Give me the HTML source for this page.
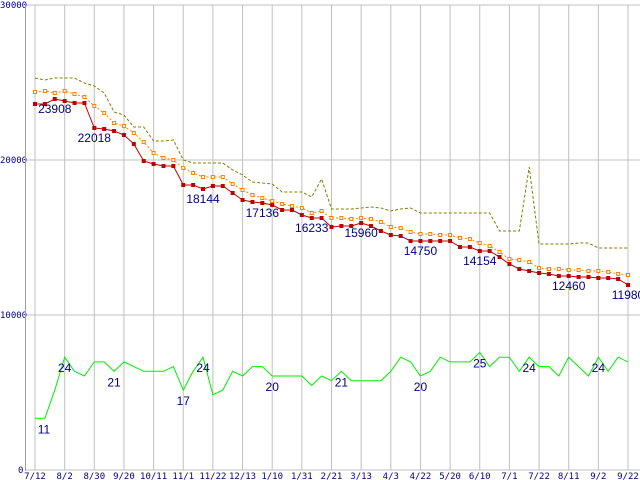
<!DOCTYPE html>
<html><head><meta charset="utf-8"><style>
html,body{margin:0;padding:0;background:#fff;}
svg{display:block;}
.tk{font-family:"DejaVu Sans Mono","Liberation Mono",monospace;font-size:9px;fill:#000080;}
.lb{font-family:"Liberation Sans",sans-serif;font-size:12px;fill:#000080;}
</style></head><body>
<svg id="chart" width="640" height="480" viewBox="0 0 640 480" xmlns="http://www.w3.org/2000/svg"></svg>
<script>
const xLabels=["7/12","8/2","8/30","9/20","10/11","11/1","11/22","12/13","1/10","1/31","2/21","3/13","4/3","4/22","5/20","6/10","7/1","7/22","8/11","9/2","9/22"];
const yTicks=[0,10000,20000,30000];
const redSeries=[23613,23613,23935,23806,23677,23677,22065,22000,21871,21613,21032,19935,19742,19613,19613,18387,18387,18129,18323,18323,17871,17419,17290,17226,17097,16774,16774,16452,16258,16258,15677,15742,15742,15935,15742,15419,15161,15097,14774,14774,14774,14774,14774,14387,14387,14129,14129,13742,13290,12968,12839,12710,12645,12516,12516,12452,12452,12387,12387,12323,11935];
const orangeSeries=[24387,24452,24323,24452,24258,24065,23484,23032,22387,22194,21742,21161,20452,20129,20000,19484,19161,18903,18903,18903,18452,18065,17742,17548,17355,17161,17032,16903,16581,16710,16258,16258,16194,16258,16194,16000,15677,15613,15355,15226,15226,15161,15161,14968,14903,14645,14452,14065,13613,13548,13419,13032,12968,12968,12903,12903,12839,12839,12774,12645,12581];
const oliveSeries=[25290,25161,25290,25290,25290,24968,24774,24323,23097,22903,22129,22129,21226,21226,21290,20000,19806,19806,19806,19806,19355,19032,18581,18516,18452,17935,17935,17935,17613,18774,16839,16839,16839,16903,16968,16903,16710,16839,16903,16581,16581,16581,16581,16581,16581,16581,16581,15419,15419,15419,19548,14581,14581,14581,14581,14645,14645,14323,14323,14323,14323];
const greenSeries=[11,11,17,24,21,20,23,23,21,23,22,21,21,21,22,17,21,24,16,17,21,20,22,22,20,20,20,20,18,20,19,21,19,19,19,19,21,24,23,20,21,24,23,23,23,25,22,24,24,21,24,22,22,20,24,22,20,24,21,24,23];
const redLabelIdx=[2,6,17,23,28,33,39,45,54,60];
const redLabelText=["23908","22018","18144","17136","16233","15960","14750","14154","12460","11980"];
const greenLabelIdx=[0,3,8,15,17,24,31,39,45,50,57];
const greenLabelText=["11","24","21","17","24","20","21","20","25","24","24"];

const NS="http://www.w3.org/2000/svg";
const svg=document.getElementById('chart');
const X0=35,X1=628,Y0=470,YT=5;
function xPos(i){return X0+i*(X1-X0)/(redSeries.length-1);}
function yPos(v){return Y0-(v/30000)*(Y0-YT);}
function yG(v){return Y0-v*4.7;}
function mk(tag,attrs){const e=document.createElementNS(NS,tag);for(const k in attrs)e.setAttribute(k,attrs[k]);svg.appendChild(e);return e;}

// grid
yTicks.forEach((t,k)=>{
  const y=yPos(t);
  const g=mk('line',{x1:26,x2:640,y1:y,y2:y,stroke:'#c0c0c0','stroke-width':1});
  
  
  const tx=mk('text',{x:t===0?18:0,y:y+3,class:'tk'});
  tx.textContent=String(t);
  
  
});
xLabels.forEach((l,k)=>{
  const x=X0+k*(X1-X0)/(xLabels.length-1);
  const g=mk('line',{x1:x,x2:x,y1:YT,y2:Y0,stroke:'#c0c0c0','stroke-width':1});
  
  
  const tx=mk('text',{x:x,y:479,class:'tk','text-anchor':'middle'});
  tx.textContent=l;
  
  
});
const ax=mk('line',{x1:25.5,x2:25.5,y1:YT,y2:Y0+1,stroke:'#a0a0a0'});



function poly(arr,yf,attrs,name){
  const pts=arr.map((v,i)=>xPos(i).toFixed(1)+','+yf(v).toFixed(1)).join(' ');
  const p=mk('polyline',Object.assign({points:pts,fill:'none'},attrs));
  
  
}
poly(oliveSeries,yPos,{stroke:'#808000','stroke-width':1,'stroke-dasharray':'3,2'},'olive-line');
poly(orangeSeries,yPos,{stroke:'#ff8000','stroke-width':1,'stroke-dasharray':'2,2'},'orange-line');
orangeSeries.forEach((v,i)=>{
  const r=mk('rect',{x:xPos(i)-1.5,y:yPos(v)-1.5,width:3,height:3,fill:'#fff',stroke:'#ff8000','stroke-width':1});
  
  
});
poly(redSeries,yPos,{stroke:'#c00000','stroke-width':1},'red-line');
redSeries.forEach((v,i)=>{
  const r=mk('rect',{x:xPos(i)-2,y:yPos(v)-2,width:4,height:4,fill:'#c00000'});
  
  
});
poly(greenSeries,yG,{stroke:'#00ee00','stroke-width':1},'green-line');

redLabelIdx.forEach((idx,k)=>{
  const t=mk('text',{x:xPos(idx),y:yPos(redSeries[idx])+14,class:'lb','text-anchor':'middle'});
  t.textContent=redLabelText[k];
  
  
});
greenLabelIdx.forEach((idx,k)=>{
  const x=Math.max(xPos(idx),44);
  const t=mk('text',{x:x,y:yG(greenSeries[idx])+15,class:'lb','text-anchor':'middle'});
  t.textContent=greenLabelText[k];
  
  
});
</script>
</body></html>
